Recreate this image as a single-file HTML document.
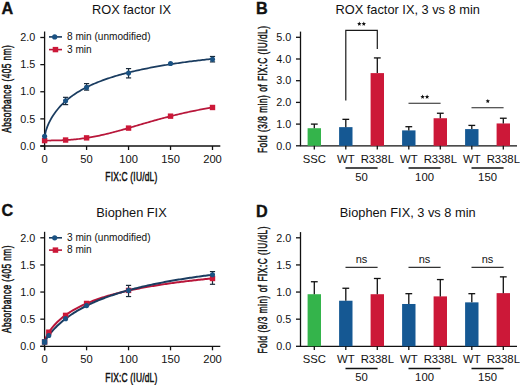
<!DOCTYPE html>
<html><head><meta charset="utf-8"><style>
html,body{margin:0;padding:0;background:#fff;width:520px;height:385px;overflow:hidden}
svg{display:block}
text{font-family:"Liberation Sans", sans-serif}
</style></head><body>
<svg width="520" height="385" viewBox="0 0 520 385">
<rect width="520" height="385" fill="#fff"/>
<text x="1.60" y="13.70" font-size="16.2" text-anchor="start" font-weight="700" fill="#111"  stroke="#111" stroke-width="0.35">A</text>
<text x="131.50" y="13.80" font-size="12.8" text-anchor="middle" font-weight="400" fill="#111" >ROX factor IX</text>
<line x1="44.60" y1="31.50" x2="44.60" y2="150.00" stroke="#111" stroke-width="1.3"/>
<line x1="40.30" y1="146.00" x2="220.30" y2="146.00" stroke="#111" stroke-width="1.3"/>
<line x1="40.30" y1="146.00" x2="44.60" y2="146.00" stroke="#111" stroke-width="1.3"/>
<text x="35.20" y="149.70" font-size="10.8" text-anchor="end" font-weight="400" fill="#111" >0.0</text>
<line x1="40.30" y1="118.88" x2="44.60" y2="118.88" stroke="#111" stroke-width="1.3"/>
<text x="35.20" y="122.58" font-size="10.8" text-anchor="end" font-weight="400" fill="#111" >0.5</text>
<line x1="40.30" y1="91.75" x2="44.60" y2="91.75" stroke="#111" stroke-width="1.3"/>
<text x="35.20" y="95.45" font-size="10.8" text-anchor="end" font-weight="400" fill="#111" >1.0</text>
<line x1="40.30" y1="64.62" x2="44.60" y2="64.62" stroke="#111" stroke-width="1.3"/>
<text x="35.20" y="68.33" font-size="10.8" text-anchor="end" font-weight="400" fill="#111" >1.5</text>
<line x1="40.30" y1="37.50" x2="44.60" y2="37.50" stroke="#111" stroke-width="1.3"/>
<text x="35.20" y="41.20" font-size="10.8" text-anchor="end" font-weight="400" fill="#111" >2.0</text>
<line x1="44.60" y1="146.00" x2="44.60" y2="150.00" stroke="#111" stroke-width="1.3"/>
<text x="44.60" y="162.60" font-size="11.2" text-anchor="middle" font-weight="400" fill="#111" >0</text>
<line x1="86.58" y1="146.00" x2="86.58" y2="150.00" stroke="#111" stroke-width="1.3"/>
<text x="86.58" y="162.60" font-size="11.2" text-anchor="middle" font-weight="400" fill="#111" >50</text>
<line x1="128.55" y1="146.00" x2="128.55" y2="150.00" stroke="#111" stroke-width="1.3"/>
<text x="128.55" y="162.60" font-size="11.2" text-anchor="middle" font-weight="400" fill="#111" >100</text>
<line x1="170.53" y1="146.00" x2="170.53" y2="150.00" stroke="#111" stroke-width="1.3"/>
<text x="170.53" y="162.60" font-size="11.2" text-anchor="middle" font-weight="400" fill="#111" >150</text>
<line x1="212.50" y1="146.00" x2="212.50" y2="150.00" stroke="#111" stroke-width="1.3"/>
<text x="212.50" y="162.60" font-size="11.2" text-anchor="middle" font-weight="400" fill="#111" >200</text>
<text transform="translate(131.30,181.20) scale(0.68,1)" x="0" y="0" font-size="12.4" text-anchor="middle" textLength="76.47" lengthAdjust="spacing" fill="#111" stroke="#111" stroke-width="0.5">FIX:C (IU/dL)</text>
<text transform="translate(11.20,89.00) rotate(-90) scale(0.68,1)" x="0" y="0" font-size="12.2" text-anchor="middle" textLength="128.68" lengthAdjust="spacing" fill="#111" stroke="#111" stroke-width="0.5">Absorbance (405 nm)</text>
<path d="M44.60,140.51 L46.01,140.51 L47.42,140.51 L48.83,140.50 L50.24,140.50 L51.65,140.48 L53.07,140.47 L54.48,140.45 L55.89,140.42 L57.30,140.39 L58.71,140.35 L60.12,140.31 L61.53,140.26 L62.94,140.20 L64.35,140.13 L65.76,140.06 L67.17,139.98 L68.59,139.89 L70.00,139.79 L71.41,139.68 L72.82,139.56 L74.23,139.43 L75.64,139.30 L77.05,139.15 L78.46,139.00 L79.87,138.83 L81.28,138.66 L82.69,138.47 L84.11,138.28 L85.52,138.08 L86.93,137.86 L88.34,137.64 L89.75,137.41 L91.16,137.17 L92.57,136.91 L93.98,136.65 L95.39,136.38 L96.80,136.10 L98.22,135.82 L99.63,135.52 L101.04,135.22 L102.45,134.90 L103.86,134.58 L105.27,134.25 L106.68,133.92 L108.09,133.58 L109.50,133.23 L110.91,132.87 L112.32,132.51 L113.74,132.14 L115.15,131.77 L116.56,131.39 L117.97,131.01 L119.38,130.62 L120.79,130.23 L122.20,129.84 L123.61,129.44 L125.02,129.04 L126.43,128.64 L127.84,128.23 L129.26,127.82 L130.67,127.41 L132.08,127.00 L133.49,126.59 L134.90,126.17 L136.31,125.76 L137.72,125.35 L139.13,124.93 L140.54,124.52 L141.95,124.11 L143.36,123.70 L144.78,123.28 L146.19,122.87 L147.60,122.47 L149.01,122.06 L150.42,121.66 L151.83,121.25 L153.24,120.86 L154.65,120.46 L156.06,120.06 L157.47,119.67 L158.88,119.28 L160.30,118.90 L161.71,118.52 L163.12,118.14 L164.53,117.76 L165.94,117.39 L167.35,117.03 L168.76,116.66 L170.17,116.30 L171.58,115.95 L172.99,115.59 L174.41,115.25 L175.82,114.90 L177.23,114.56 L178.64,114.23 L180.05,113.90 L181.46,113.57 L182.87,113.25 L184.28,112.93 L185.69,112.62 L187.10,112.31 L188.51,112.00 L189.93,111.70 L191.34,111.40 L192.75,111.11 L194.16,110.82 L195.57,110.54 L196.98,110.26 L198.39,109.99 L199.80,109.71 L201.21,109.45 L202.62,109.18 L204.03,108.93 L205.45,108.67 L206.86,108.42 L208.27,108.17 L209.68,107.93 L211.09,107.69 L212.50,107.46" fill="none" stroke="#b8163a" stroke-width="1.75"/>
<path d="M44.60,136.78 L46.01,130.43 L47.42,126.44 L48.83,123.17 L50.24,120.33 L51.65,117.80 L53.07,115.52 L54.48,113.43 L55.89,111.49 L57.30,109.70 L58.71,108.02 L60.12,106.44 L61.53,104.95 L62.94,103.55 L64.35,102.21 L65.76,100.95 L67.17,99.74 L68.59,98.58 L70.00,97.48 L71.41,96.42 L72.82,95.41 L74.23,94.43 L75.64,93.50 L77.05,92.59 L78.46,91.72 L79.87,90.88 L81.28,90.07 L82.69,89.28 L84.11,88.52 L85.52,87.79 L86.93,87.07 L88.34,86.38 L89.75,85.71 L91.16,85.06 L92.57,84.42 L93.98,83.80 L95.39,83.20 L96.80,82.62 L98.22,82.05 L99.63,81.49 L101.04,80.95 L102.45,80.42 L103.86,79.91 L105.27,79.41 L106.68,78.92 L108.09,78.43 L109.50,77.97 L110.91,77.51 L112.32,77.06 L113.74,76.62 L115.15,76.19 L116.56,75.77 L117.97,75.36 L119.38,74.95 L120.79,74.56 L122.20,74.17 L123.61,73.79 L125.02,73.42 L126.43,73.05 L127.84,72.69 L129.26,72.34 L130.67,71.99 L132.08,71.65 L133.49,71.32 L134.90,70.99 L136.31,70.67 L137.72,70.35 L139.13,70.04 L140.54,69.74 L141.95,69.44 L143.36,69.14 L144.78,68.85 L146.19,68.56 L147.60,68.28 L149.01,68.01 L150.42,67.73 L151.83,67.46 L153.24,67.20 L154.65,66.94 L156.06,66.68 L157.47,66.43 L158.88,66.18 L160.30,65.94 L161.71,65.69 L163.12,65.46 L164.53,65.22 L165.94,64.99 L167.35,64.76 L168.76,64.54 L170.17,64.31 L171.58,64.10 L172.99,63.88 L174.41,63.67 L175.82,63.46 L177.23,63.25 L178.64,63.04 L180.05,62.84 L181.46,62.64 L182.87,62.44 L184.28,62.25 L185.69,62.06 L187.10,61.87 L188.51,61.68 L189.93,61.49 L191.34,61.31 L192.75,61.13 L194.16,60.95 L195.57,60.78 L196.98,60.60 L198.39,60.43 L199.80,60.26 L201.21,60.09 L202.62,59.92 L204.03,59.76 L205.45,59.60 L206.86,59.44 L208.27,59.28 L209.68,59.12 L211.09,58.96 L212.50,58.81" fill="none" stroke="#1a3c60" stroke-width="1.75"/>
<line x1="65.59" y1="97.34" x2="65.59" y2="104.61" stroke="#1a2a3a" stroke-width="1.2"/>
<line x1="62.99" y1="97.34" x2="68.19" y2="97.34" stroke="#1a2a3a" stroke-width="1.2"/>
<line x1="62.99" y1="104.61" x2="68.19" y2="104.61" stroke="#1a2a3a" stroke-width="1.2"/>
<line x1="86.58" y1="83.61" x2="86.58" y2="90.12" stroke="#1a2a3a" stroke-width="1.2"/>
<line x1="83.98" y1="83.61" x2="89.17" y2="83.61" stroke="#1a2a3a" stroke-width="1.2"/>
<line x1="83.98" y1="90.12" x2="89.17" y2="90.12" stroke="#1a2a3a" stroke-width="1.2"/>
<line x1="128.55" y1="68.59" x2="128.55" y2="77.92" stroke="#1a2a3a" stroke-width="1.2"/>
<line x1="125.95" y1="68.59" x2="131.15" y2="68.59" stroke="#1a2a3a" stroke-width="1.2"/>
<line x1="125.95" y1="77.92" x2="131.15" y2="77.92" stroke="#1a2a3a" stroke-width="1.2"/>
<line x1="212.50" y1="56.49" x2="212.50" y2="61.91" stroke="#1a2a3a" stroke-width="1.2"/>
<line x1="209.90" y1="56.49" x2="215.10" y2="56.49" stroke="#1a2a3a" stroke-width="1.2"/>
<line x1="209.90" y1="61.91" x2="215.10" y2="61.91" stroke="#1a2a3a" stroke-width="1.2"/>
<rect x="41.90" y="137.88" width="5.4" height="5.4" fill="#cc1838"/>
<rect x="62.89" y="137.33" width="5.4" height="5.4" fill="#cc1838"/>
<rect x="83.88" y="135.16" width="5.4" height="5.4" fill="#cc1838"/>
<rect x="125.85" y="125.40" width="5.4" height="5.4" fill="#cc1838"/>
<rect x="167.83" y="113.46" width="5.4" height="5.4" fill="#cc1838"/>
<rect x="209.80" y="104.78" width="5.4" height="5.4" fill="#cc1838"/>
<circle cx="44.60" cy="136.24" r="2.55" fill="#1a5283"/>
<circle cx="65.59" cy="100.70" r="2.55" fill="#1a5283"/>
<circle cx="86.58" cy="87.41" r="2.55" fill="#1a5283"/>
<circle cx="128.55" cy="73.03" r="2.55" fill="#1a5283"/>
<circle cx="170.53" cy="63.54" r="2.55" fill="#1a5283"/>
<circle cx="212.50" cy="59.20" r="2.55" fill="#1a5283"/>
<line x1="49.00" y1="36.90" x2="62.00" y2="36.90" stroke="#1a3c60" stroke-width="1.6"/>
<circle cx="54.7" cy="36.90" r="2.6" fill="#1a5283"/>
<text x="67.00" y="40.30" font-size="10.1" text-anchor="start" font-weight="400" fill="#111" >8 min (unmodified)</text>
<line x1="49.00" y1="49.60" x2="62.00" y2="49.60" stroke="#b8163a" stroke-width="1.6"/>
<rect x="52.7" y="46.90" width="5.5" height="5.4" fill="#cc1838"/>
<text x="67.00" y="53.00" font-size="10.1" text-anchor="start" font-weight="400" fill="#111" >3 min</text>
<text x="1.60" y="216.40" font-size="16.2" text-anchor="start" font-weight="700" fill="#111"  stroke="#111" stroke-width="0.35">C</text>
<text x="131.50" y="216.50" font-size="12.8" text-anchor="middle" font-weight="400" fill="#111" >Biophen FIX</text>
<line x1="44.60" y1="231.80" x2="44.60" y2="350.30" stroke="#111" stroke-width="1.3"/>
<line x1="40.30" y1="346.30" x2="220.30" y2="346.30" stroke="#111" stroke-width="1.3"/>
<line x1="40.30" y1="346.30" x2="44.60" y2="346.30" stroke="#111" stroke-width="1.3"/>
<text x="35.20" y="350.00" font-size="10.8" text-anchor="end" font-weight="400" fill="#111" >0.0</text>
<line x1="40.30" y1="319.18" x2="44.60" y2="319.18" stroke="#111" stroke-width="1.3"/>
<text x="35.20" y="322.88" font-size="10.8" text-anchor="end" font-weight="400" fill="#111" >0.5</text>
<line x1="40.30" y1="292.05" x2="44.60" y2="292.05" stroke="#111" stroke-width="1.3"/>
<text x="35.20" y="295.75" font-size="10.8" text-anchor="end" font-weight="400" fill="#111" >1.0</text>
<line x1="40.30" y1="264.93" x2="44.60" y2="264.93" stroke="#111" stroke-width="1.3"/>
<text x="35.20" y="268.62" font-size="10.8" text-anchor="end" font-weight="400" fill="#111" >1.5</text>
<line x1="40.30" y1="237.80" x2="44.60" y2="237.80" stroke="#111" stroke-width="1.3"/>
<text x="35.20" y="241.50" font-size="10.8" text-anchor="end" font-weight="400" fill="#111" >2.0</text>
<line x1="44.60" y1="346.30" x2="44.60" y2="350.30" stroke="#111" stroke-width="1.3"/>
<text x="44.60" y="362.90" font-size="11.2" text-anchor="middle" font-weight="400" fill="#111" >0</text>
<line x1="86.58" y1="346.30" x2="86.58" y2="350.30" stroke="#111" stroke-width="1.3"/>
<text x="86.58" y="362.90" font-size="11.2" text-anchor="middle" font-weight="400" fill="#111" >50</text>
<line x1="128.55" y1="346.30" x2="128.55" y2="350.30" stroke="#111" stroke-width="1.3"/>
<text x="128.55" y="362.90" font-size="11.2" text-anchor="middle" font-weight="400" fill="#111" >100</text>
<line x1="170.53" y1="346.30" x2="170.53" y2="350.30" stroke="#111" stroke-width="1.3"/>
<text x="170.53" y="362.90" font-size="11.2" text-anchor="middle" font-weight="400" fill="#111" >150</text>
<line x1="212.50" y1="346.30" x2="212.50" y2="350.30" stroke="#111" stroke-width="1.3"/>
<text x="212.50" y="362.90" font-size="11.2" text-anchor="middle" font-weight="400" fill="#111" >200</text>
<text transform="translate(131.30,381.50) scale(0.68,1)" x="0" y="0" font-size="12.4" text-anchor="middle" textLength="76.47" lengthAdjust="spacing" fill="#111" stroke="#111" stroke-width="0.5">FIX:C (IU/dL)</text>
<text transform="translate(11.20,289.30) rotate(-90) scale(0.68,1)" x="0" y="0" font-size="12.2" text-anchor="middle" textLength="128.68" lengthAdjust="spacing" fill="#111" stroke="#111" stroke-width="0.5">Absorbance (405 nm)</text>
<path d="M44.60,341.35 L46.01,337.42 L47.42,334.67 L48.83,332.33 L50.24,330.24 L51.65,328.35 L53.07,326.61 L54.48,325.00 L55.89,323.49 L57.30,322.07 L58.71,320.74 L60.12,319.48 L61.53,318.28 L62.94,317.14 L64.35,316.05 L65.76,315.01 L67.17,314.01 L68.59,313.06 L70.00,312.14 L71.41,311.26 L72.82,310.41 L74.23,309.59 L75.64,308.80 L77.05,308.04 L78.46,307.30 L79.87,306.58 L81.28,305.89 L82.69,305.22 L84.11,304.57 L85.52,303.94 L86.93,303.32 L88.34,302.73 L89.75,302.15 L91.16,301.58 L92.57,301.04 L93.98,300.50 L95.39,299.98 L96.80,299.47 L98.22,298.98 L99.63,298.49 L101.04,298.02 L102.45,297.56 L103.86,297.11 L105.27,296.67 L106.68,296.24 L108.09,295.82 L109.50,295.41 L110.91,295.01 L112.32,294.61 L113.74,294.23 L115.15,293.85 L116.56,293.48 L117.97,293.11 L119.38,292.76 L120.79,292.41 L122.20,292.07 L123.61,291.73 L125.02,291.40 L126.43,291.08 L127.84,290.76 L129.26,290.45 L130.67,290.14 L132.08,289.84 L133.49,289.55 L134.90,289.26 L136.31,288.97 L137.72,288.69 L139.13,288.41 L140.54,288.14 L141.95,287.88 L143.36,287.61 L144.78,287.35 L146.19,287.10 L147.60,286.85 L149.01,286.60 L150.42,286.36 L151.83,286.12 L153.24,285.89 L154.65,285.65 L156.06,285.43 L157.47,285.20 L158.88,284.98 L160.30,284.76 L161.71,284.55 L163.12,284.33 L164.53,284.12 L165.94,283.92 L167.35,283.71 L168.76,283.51 L170.17,283.32 L171.58,283.12 L172.99,282.93 L174.41,282.74 L175.82,282.55 L177.23,282.36 L178.64,282.18 L180.05,282.00 L181.46,281.82 L182.87,281.65 L184.28,281.47 L185.69,281.30 L187.10,281.13 L188.51,280.96 L189.93,280.80 L191.34,280.64 L192.75,280.47 L194.16,280.31 L195.57,280.16 L196.98,280.00 L198.39,279.85 L199.80,279.70 L201.21,279.54 L202.62,279.40 L204.03,279.25 L205.45,279.10 L206.86,278.96 L208.27,278.82 L209.68,278.68 L211.09,278.54 L212.50,278.40" fill="none" stroke="#b8163a" stroke-width="2.0"/>
<path d="M44.60,342.03 L46.01,339.38 L47.42,337.23 L48.83,335.27 L50.24,333.46 L51.65,331.76 L53.07,330.16 L54.48,328.63 L55.89,327.18 L57.30,325.80 L58.71,324.47 L60.12,323.20 L61.53,321.97 L62.94,320.79 L64.35,319.65 L65.76,318.56 L67.17,317.50 L68.59,316.47 L70.00,315.48 L71.41,314.51 L72.82,313.58 L74.23,312.68 L75.64,311.80 L77.05,310.94 L78.46,310.11 L79.87,309.30 L81.28,308.51 L82.69,307.75 L84.11,307.00 L85.52,306.27 L86.93,305.56 L88.34,304.87 L89.75,304.19 L91.16,303.53 L92.57,302.88 L93.98,302.25 L95.39,301.64 L96.80,301.03 L98.22,300.44 L99.63,299.87 L101.04,299.30 L102.45,298.75 L103.86,298.21 L105.27,297.68 L106.68,297.16 L108.09,296.65 L109.50,296.15 L110.91,295.66 L112.32,295.18 L113.74,294.70 L115.15,294.24 L116.56,293.79 L117.97,293.34 L119.38,292.90 L120.79,292.47 L122.20,292.05 L123.61,291.64 L125.02,291.23 L126.43,290.83 L127.84,290.43 L129.26,290.05 L130.67,289.67 L132.08,289.29 L133.49,288.92 L134.90,288.56 L136.31,288.20 L137.72,287.85 L139.13,287.51 L140.54,287.17 L141.95,286.83 L143.36,286.50 L144.78,286.18 L146.19,285.86 L147.60,285.54 L149.01,285.23 L150.42,284.92 L151.83,284.62 L153.24,284.33 L154.65,284.03 L156.06,283.74 L157.47,283.46 L158.88,283.18 L160.30,282.90 L161.71,282.63 L163.12,282.36 L164.53,282.09 L165.94,281.83 L167.35,281.57 L168.76,281.31 L170.17,281.06 L171.58,280.81 L172.99,280.57 L174.41,280.32 L175.82,280.08 L177.23,279.85 L178.64,279.61 L180.05,279.38 L181.46,279.16 L182.87,278.93 L184.28,278.71 L185.69,278.49 L187.10,278.27 L188.51,278.06 L189.93,277.85 L191.34,277.64 L192.75,277.43 L194.16,277.22 L195.57,277.02 L196.98,276.82 L198.39,276.62 L199.80,276.43 L201.21,276.24 L202.62,276.04 L204.03,275.86 L205.45,275.67 L206.86,275.48 L208.27,275.30 L209.68,275.12 L211.09,274.94 L212.50,274.76" fill="none" stroke="#1a3c60" stroke-width="2.0"/>
<line x1="128.55" y1="285.38" x2="128.55" y2="296.55" stroke="#1a2a3a" stroke-width="1.2"/>
<line x1="125.95" y1="285.38" x2="131.15" y2="285.38" stroke="#1a2a3a" stroke-width="1.2"/>
<line x1="125.95" y1="296.55" x2="131.15" y2="296.55" stroke="#1a2a3a" stroke-width="1.2"/>
<line x1="212.50" y1="271.60" x2="212.50" y2="284.29" stroke="#1a2a3a" stroke-width="1.2"/>
<line x1="209.90" y1="271.60" x2="215.10" y2="271.60" stroke="#1a2a3a" stroke-width="1.2"/>
<line x1="209.90" y1="284.29" x2="215.10" y2="284.29" stroke="#1a2a3a" stroke-width="1.2"/>
<rect x="41.90" y="339.26" width="5.4" height="5.4" fill="#cc1838"/>
<rect x="46.10" y="329.50" width="5.4" height="5.4" fill="#cc1838"/>
<rect x="62.89" y="312.68" width="5.4" height="5.4" fill="#cc1838"/>
<rect x="83.88" y="300.74" width="5.4" height="5.4" fill="#cc1838"/>
<rect x="125.85" y="287.72" width="5.4" height="5.4" fill="#cc1838"/>
<rect x="209.80" y="275.79" width="5.4" height="5.4" fill="#cc1838"/>
<circle cx="44.60" cy="341.96" r="2.55" fill="#1a5283"/>
<circle cx="48.80" cy="335.45" r="2.55" fill="#1a5283"/>
<circle cx="65.59" cy="318.63" r="2.55" fill="#1a5283"/>
<circle cx="86.58" cy="305.61" r="2.55" fill="#1a5283"/>
<circle cx="128.55" cy="290.42" r="2.55" fill="#1a5283"/>
<circle cx="212.50" cy="274.69" r="2.55" fill="#1a5283"/>
<rect x="41.90" y="339.26" width="5.4" height="5.4" fill="#1a5283"/>
<line x1="49.00" y1="237.80" x2="62.00" y2="237.80" stroke="#1a3c60" stroke-width="1.6"/>
<circle cx="54.7" cy="237.80" r="2.6" fill="#1a5283"/>
<text x="67.00" y="241.00" font-size="10.1" text-anchor="start" font-weight="400" fill="#111" >3 min (unmodified)</text>
<line x1="49.00" y1="250.10" x2="62.00" y2="250.10" stroke="#b8163a" stroke-width="1.6"/>
<rect x="52.7" y="247.40" width="5.5" height="5.4" fill="#cc1838"/>
<text x="67.00" y="252.90" font-size="10.1" text-anchor="start" font-weight="400" fill="#111" >8 min</text>
<text x="256.00" y="13.70" font-size="16.2" text-anchor="start" font-weight="700" fill="#111"  stroke="#111" stroke-width="0.35">B</text>
<text x="407.70" y="13.80" font-size="12.8" text-anchor="middle" font-weight="400" fill="#111" >ROX factor IX, 3 vs 8 min</text>
<line x1="300.50" y1="31.60" x2="300.50" y2="145.80" stroke="#111" stroke-width="1.3"/>
<line x1="299.90" y1="145.80" x2="517.00" y2="145.80" stroke="#111" stroke-width="1.3"/>
<line x1="296.00" y1="145.80" x2="300.50" y2="145.80" stroke="#111" stroke-width="1.3"/>
<text x="291.30" y="149.50" font-size="10.8" text-anchor="end" font-weight="400" fill="#111" >0.0</text>
<line x1="296.00" y1="124.10" x2="300.50" y2="124.10" stroke="#111" stroke-width="1.3"/>
<text x="291.30" y="127.80" font-size="10.8" text-anchor="end" font-weight="400" fill="#111" >1.0</text>
<line x1="296.00" y1="102.40" x2="300.50" y2="102.40" stroke="#111" stroke-width="1.3"/>
<text x="291.30" y="106.10" font-size="10.8" text-anchor="end" font-weight="400" fill="#111" >2.0</text>
<line x1="296.00" y1="80.70" x2="300.50" y2="80.70" stroke="#111" stroke-width="1.3"/>
<text x="291.30" y="84.40" font-size="10.8" text-anchor="end" font-weight="400" fill="#111" >3.0</text>
<line x1="296.00" y1="59.00" x2="300.50" y2="59.00" stroke="#111" stroke-width="1.3"/>
<text x="291.30" y="62.70" font-size="10.8" text-anchor="end" font-weight="400" fill="#111" >4.0</text>
<line x1="296.00" y1="37.30" x2="300.50" y2="37.30" stroke="#111" stroke-width="1.3"/>
<text x="291.30" y="41.00" font-size="10.8" text-anchor="end" font-weight="400" fill="#111" >5.0</text>
<text transform="translate(266.60,89.50) rotate(-90) scale(0.68,1)" x="0" y="0" font-size="12.2" text-anchor="middle" textLength="186.76" lengthAdjust="spacing" fill="#111" stroke="#111" stroke-width="0.5">Fold (3/8 min) of FIX:C (IU/dL)</text>
<rect x="307.60" y="128.22" width="13.4" height="17.58" fill="#34b44b"/>
<line x1="314.30" y1="128.22" x2="314.30" y2="124.10" stroke="#111" stroke-width="1.3"/>
<line x1="310.90" y1="124.10" x2="317.70" y2="124.10" stroke="#111" stroke-width="1.3"/>
<line x1="314.30" y1="145.80" x2="314.30" y2="149.40" stroke="#111" stroke-width="1.3"/>
<text x="314.30" y="163.10" font-size="11.3" text-anchor="middle" font-weight="400" fill="#111" >SSC</text>
<rect x="339.10" y="127.14" width="13.4" height="18.66" fill="#155893"/>
<line x1="345.80" y1="127.14" x2="345.80" y2="119.33" stroke="#111" stroke-width="1.3"/>
<line x1="342.40" y1="119.33" x2="349.20" y2="119.33" stroke="#111" stroke-width="1.3"/>
<line x1="345.80" y1="145.80" x2="345.80" y2="149.40" stroke="#111" stroke-width="1.3"/>
<text x="345.80" y="163.10" font-size="11.3" text-anchor="middle" font-weight="400" fill="#111" >WT</text>
<rect x="370.60" y="73.11" width="13.4" height="72.69" fill="#cc1838"/>
<line x1="377.30" y1="73.11" x2="377.30" y2="57.92" stroke="#111" stroke-width="1.3"/>
<line x1="373.90" y1="57.92" x2="380.70" y2="57.92" stroke="#111" stroke-width="1.3"/>
<line x1="377.30" y1="145.80" x2="377.30" y2="149.40" stroke="#111" stroke-width="1.3"/>
<text x="377.30" y="163.10" font-size="11.3" text-anchor="middle" font-weight="400" fill="#111" >R338L</text>
<rect x="402.10" y="130.39" width="13.4" height="15.41" fill="#155893"/>
<line x1="408.80" y1="130.39" x2="408.80" y2="126.70" stroke="#111" stroke-width="1.3"/>
<line x1="405.40" y1="126.70" x2="412.20" y2="126.70" stroke="#111" stroke-width="1.3"/>
<line x1="408.80" y1="145.80" x2="408.80" y2="149.40" stroke="#111" stroke-width="1.3"/>
<text x="408.80" y="163.10" font-size="11.3" text-anchor="middle" font-weight="400" fill="#111" >WT</text>
<rect x="433.60" y="118.24" width="13.4" height="27.56" fill="#cc1838"/>
<line x1="440.30" y1="118.24" x2="440.30" y2="113.25" stroke="#111" stroke-width="1.3"/>
<line x1="436.90" y1="113.25" x2="443.70" y2="113.25" stroke="#111" stroke-width="1.3"/>
<line x1="440.30" y1="145.80" x2="440.30" y2="149.40" stroke="#111" stroke-width="1.3"/>
<text x="440.30" y="163.10" font-size="11.3" text-anchor="middle" font-weight="400" fill="#111" >R338L</text>
<rect x="465.10" y="129.09" width="13.4" height="16.71" fill="#155893"/>
<line x1="471.80" y1="129.09" x2="471.80" y2="125.40" stroke="#111" stroke-width="1.3"/>
<line x1="468.40" y1="125.40" x2="475.20" y2="125.40" stroke="#111" stroke-width="1.3"/>
<line x1="471.80" y1="145.80" x2="471.80" y2="149.40" stroke="#111" stroke-width="1.3"/>
<text x="471.80" y="163.10" font-size="11.3" text-anchor="middle" font-weight="400" fill="#111" >WT</text>
<rect x="496.60" y="123.45" width="13.4" height="22.35" fill="#cc1838"/>
<line x1="503.30" y1="123.45" x2="503.30" y2="118.24" stroke="#111" stroke-width="1.3"/>
<line x1="499.90" y1="118.24" x2="506.70" y2="118.24" stroke="#111" stroke-width="1.3"/>
<line x1="503.30" y1="145.80" x2="503.30" y2="149.40" stroke="#111" stroke-width="1.3"/>
<text x="503.30" y="163.10" font-size="11.3" text-anchor="middle" font-weight="400" fill="#111" >R338L</text>
<line x1="345.50" y1="168.00" x2="377.60" y2="168.00" stroke="#111" stroke-width="1.3"/>
<text x="361.55" y="180.80" font-size="11.3" text-anchor="middle" font-weight="400" fill="#111" >50</text>
<line x1="408.50" y1="168.00" x2="440.60" y2="168.00" stroke="#111" stroke-width="1.3"/>
<text x="424.55" y="180.80" font-size="11.3" text-anchor="middle" font-weight="400" fill="#111" >100</text>
<line x1="471.50" y1="168.00" x2="503.60" y2="168.00" stroke="#111" stroke-width="1.3"/>
<text x="487.55" y="180.80" font-size="11.3" text-anchor="middle" font-weight="400" fill="#111" >150</text>
<polyline points="345.80,100.6 345.80,30.3 377.30,30.3 377.30,49.1" fill="none" stroke="#1a1a1a" stroke-width="1.2"/>
<polygon points="359.30,21.60 359.91,23.06 361.49,23.19 360.28,24.22 360.65,25.76 359.30,24.93 357.95,25.76 358.32,24.22 357.11,23.19 358.69,23.06" fill="#111"/>
<polygon points="363.80,21.60 364.41,23.06 365.99,23.19 364.78,24.22 365.15,25.76 363.80,24.93 362.45,25.76 362.82,24.22 361.61,23.19 363.19,23.06" fill="#111"/>
<line x1="408.50" y1="103.20" x2="440.60" y2="103.20" stroke="#222" stroke-width="1.15"/>
<polygon points="422.60,94.60 423.21,96.06 424.79,96.19 423.58,97.22 423.95,98.76 422.60,97.94 421.25,98.76 421.62,97.22 420.41,96.19 421.99,96.06" fill="#111"/>
<polygon points="427.10,94.60 427.71,96.06 429.29,96.19 428.08,97.22 428.45,98.76 427.10,97.94 425.75,98.76 426.12,97.22 424.91,96.19 426.49,96.06" fill="#111"/>
<line x1="471.50" y1="107.70" x2="503.60" y2="107.70" stroke="#222" stroke-width="1.15"/>
<polygon points="487.80,98.90 488.41,100.36 489.99,100.49 488.78,101.52 489.15,103.06 487.80,102.23 486.45,103.06 486.82,101.52 485.61,100.49 487.19,100.36" fill="#111"/>
<text x="256.00" y="216.60" font-size="16.2" text-anchor="start" font-weight="700" fill="#111"  stroke="#111" stroke-width="0.35">D</text>
<text x="407.70" y="216.70" font-size="12.8" text-anchor="middle" font-weight="400" fill="#111" >Biophen FIX, 3 vs 8 min</text>
<line x1="300.50" y1="232.10" x2="300.50" y2="346.30" stroke="#111" stroke-width="1.3"/>
<line x1="299.90" y1="346.30" x2="517.00" y2="346.30" stroke="#111" stroke-width="1.3"/>
<line x1="296.00" y1="346.30" x2="300.50" y2="346.30" stroke="#111" stroke-width="1.3"/>
<text x="291.30" y="350.00" font-size="10.8" text-anchor="end" font-weight="400" fill="#111" >0.0</text>
<line x1="296.00" y1="319.18" x2="300.50" y2="319.18" stroke="#111" stroke-width="1.3"/>
<text x="291.30" y="322.88" font-size="10.8" text-anchor="end" font-weight="400" fill="#111" >0.5</text>
<line x1="296.00" y1="292.05" x2="300.50" y2="292.05" stroke="#111" stroke-width="1.3"/>
<text x="291.30" y="295.75" font-size="10.8" text-anchor="end" font-weight="400" fill="#111" >1.0</text>
<line x1="296.00" y1="264.93" x2="300.50" y2="264.93" stroke="#111" stroke-width="1.3"/>
<text x="291.30" y="268.62" font-size="10.8" text-anchor="end" font-weight="400" fill="#111" >1.5</text>
<line x1="296.00" y1="237.80" x2="300.50" y2="237.80" stroke="#111" stroke-width="1.3"/>
<text x="291.30" y="241.50" font-size="10.8" text-anchor="end" font-weight="400" fill="#111" >2.0</text>
<text transform="translate(266.60,290.00) rotate(-90) scale(0.68,1)" x="0" y="0" font-size="12.2" text-anchor="middle" textLength="186.76" lengthAdjust="spacing" fill="#111" stroke="#111" stroke-width="0.5">Fold (8/3 min) of FIX:C (IU/dL)</text>
<rect x="307.60" y="294.22" width="13.4" height="52.08" fill="#34b44b"/>
<line x1="314.30" y1="294.22" x2="314.30" y2="281.74" stroke="#111" stroke-width="1.3"/>
<line x1="310.90" y1="281.74" x2="317.70" y2="281.74" stroke="#111" stroke-width="1.3"/>
<line x1="314.30" y1="346.30" x2="314.30" y2="349.90" stroke="#111" stroke-width="1.3"/>
<text x="314.30" y="363.10" font-size="11.3" text-anchor="middle" font-weight="400" fill="#111" >SSC</text>
<rect x="339.10" y="300.73" width="13.4" height="45.57" fill="#155893"/>
<line x1="345.80" y1="300.73" x2="345.80" y2="288.25" stroke="#111" stroke-width="1.3"/>
<line x1="342.40" y1="288.25" x2="349.20" y2="288.25" stroke="#111" stroke-width="1.3"/>
<line x1="345.80" y1="346.30" x2="345.80" y2="349.90" stroke="#111" stroke-width="1.3"/>
<text x="345.80" y="363.10" font-size="11.3" text-anchor="middle" font-weight="400" fill="#111" >WT</text>
<rect x="370.60" y="294.22" width="13.4" height="52.08" fill="#cc1838"/>
<line x1="377.30" y1="294.22" x2="377.30" y2="278.49" stroke="#111" stroke-width="1.3"/>
<line x1="373.90" y1="278.49" x2="380.70" y2="278.49" stroke="#111" stroke-width="1.3"/>
<line x1="377.30" y1="346.30" x2="377.30" y2="349.90" stroke="#111" stroke-width="1.3"/>
<text x="377.30" y="363.10" font-size="11.3" text-anchor="middle" font-weight="400" fill="#111" >R338L</text>
<rect x="402.10" y="303.99" width="13.4" height="42.31" fill="#155893"/>
<line x1="408.80" y1="303.99" x2="408.80" y2="293.68" stroke="#111" stroke-width="1.3"/>
<line x1="405.40" y1="293.68" x2="412.20" y2="293.68" stroke="#111" stroke-width="1.3"/>
<line x1="408.80" y1="346.30" x2="408.80" y2="349.90" stroke="#111" stroke-width="1.3"/>
<text x="408.80" y="363.10" font-size="11.3" text-anchor="middle" font-weight="400" fill="#111" >WT</text>
<rect x="433.60" y="296.39" width="13.4" height="49.91" fill="#cc1838"/>
<line x1="440.30" y1="296.39" x2="440.30" y2="279.57" stroke="#111" stroke-width="1.3"/>
<line x1="436.90" y1="279.57" x2="443.70" y2="279.57" stroke="#111" stroke-width="1.3"/>
<line x1="440.30" y1="346.30" x2="440.30" y2="349.90" stroke="#111" stroke-width="1.3"/>
<text x="440.30" y="363.10" font-size="11.3" text-anchor="middle" font-weight="400" fill="#111" >R338L</text>
<rect x="465.10" y="302.36" width="13.4" height="43.94" fill="#155893"/>
<line x1="471.80" y1="302.36" x2="471.80" y2="293.68" stroke="#111" stroke-width="1.3"/>
<line x1="468.40" y1="293.68" x2="475.20" y2="293.68" stroke="#111" stroke-width="1.3"/>
<line x1="471.80" y1="346.30" x2="471.80" y2="349.90" stroke="#111" stroke-width="1.3"/>
<text x="471.80" y="363.10" font-size="11.3" text-anchor="middle" font-weight="400" fill="#111" >WT</text>
<rect x="496.60" y="293.13" width="13.4" height="53.17" fill="#cc1838"/>
<line x1="503.30" y1="293.13" x2="503.30" y2="276.86" stroke="#111" stroke-width="1.3"/>
<line x1="499.90" y1="276.86" x2="506.70" y2="276.86" stroke="#111" stroke-width="1.3"/>
<line x1="503.30" y1="346.30" x2="503.30" y2="349.90" stroke="#111" stroke-width="1.3"/>
<text x="503.30" y="363.10" font-size="11.3" text-anchor="middle" font-weight="400" fill="#111" >R338L</text>
<line x1="345.50" y1="368.50" x2="377.60" y2="368.50" stroke="#111" stroke-width="1.3"/>
<text x="361.55" y="381.30" font-size="11.3" text-anchor="middle" font-weight="400" fill="#111" >50</text>
<line x1="408.50" y1="368.50" x2="440.60" y2="368.50" stroke="#111" stroke-width="1.3"/>
<text x="424.55" y="381.30" font-size="11.3" text-anchor="middle" font-weight="400" fill="#111" >100</text>
<line x1="471.50" y1="368.50" x2="503.60" y2="368.50" stroke="#111" stroke-width="1.3"/>
<text x="487.55" y="381.30" font-size="11.3" text-anchor="middle" font-weight="400" fill="#111" >150</text>
<line x1="345.50" y1="267.30" x2="377.60" y2="267.30" stroke="#333" stroke-width="1.2"/>
<text x="361.55" y="263.20" font-size="11.0" text-anchor="middle" font-weight="400" fill="#111" >ns</text>
<line x1="408.50" y1="267.30" x2="440.60" y2="267.30" stroke="#333" stroke-width="1.2"/>
<text x="424.55" y="263.20" font-size="11.0" text-anchor="middle" font-weight="400" fill="#111" >ns</text>
<line x1="471.50" y1="267.30" x2="503.60" y2="267.30" stroke="#333" stroke-width="1.2"/>
<text x="487.55" y="263.20" font-size="11.0" text-anchor="middle" font-weight="400" fill="#111" >ns</text>
</svg></body></html>
